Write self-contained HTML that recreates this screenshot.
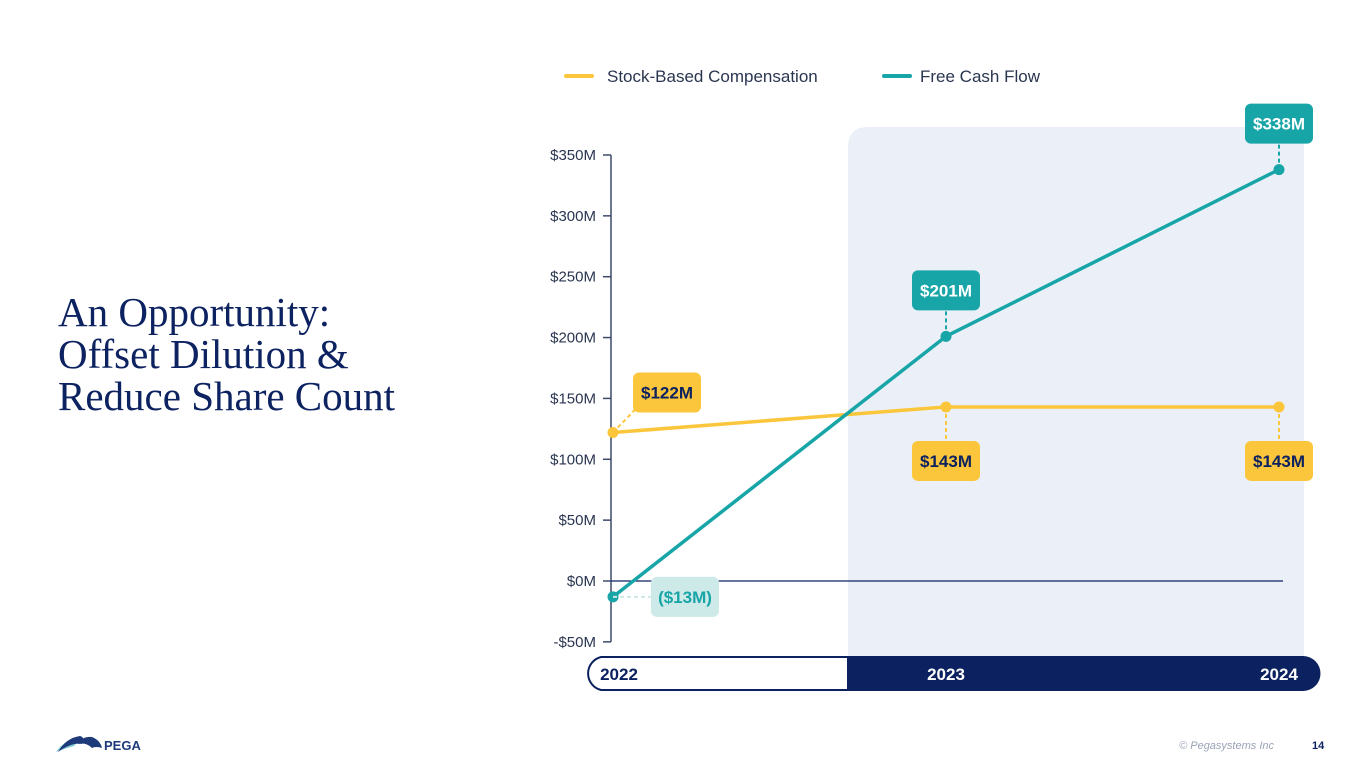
<!DOCTYPE html>
<html><head><meta charset="utf-8">
<style>
html,body{margin:0;padding:0;background:#fff;}
body{width:1365px;height:768px;position:relative;overflow:hidden;font-family:"Liberation Sans",sans-serif;}
.title{position:absolute;left:58px;top:291px;font-family:"Liberation Serif",serif;font-size:41px;line-height:42px;color:#0d2260;}
svg{position:absolute;left:0;top:0;}
</style></head>
<body>
<div class="title">An Opportunity:<br>Offset Dilution &amp;<br>Reduce Share Count</div>
<svg id="chart" width="1365" height="768"></svg>
<script>
const years=["2022","2023","2024"];
const sbc=[122,143,143];
const fcf=[-13,201,338];
const sbcLabels=["$122M","$143M","$143M"];
const fcfLabels=["($13M)","$201M","$338M"];
const yTicks=[-50,0,50,100,150,200,250,300,350];
const yTickLabels=["-$50M","$0M","$50M","$100M","$150M","$200M","$250M","$300M","$350M"];

const NS="http://www.w3.org/2000/svg";
const svg=document.getElementById('chart');
const Y0=581,PX=60.86/50;
const y=v=>Y0-v*PX;
const X0=613,XSTEP=333;
const x=i=>X0+XSTEP*i;
function el(t,a,p){const e=document.createElementNS(NS,t);for(const k in a)e.setAttribute(k,a[k]);(p||svg).appendChild(e);return e;}
const YEL="#fcc63c",TEAL="#17a5a7",NAVY="#0c2260";

let s=el('path',{d:"M848 656 V147 Q848 127 868 127 H1304 V656 Z",fill:"#ebf0f8"});


let l1=el('line',{x1:566,y1:76,x2:592,y2:76,stroke:YEL,'stroke-width':4,'stroke-linecap':'round'});

let t1=el('text',{x:607,y:82,'font-size':17,fill:'#2a3550'});t1.textContent="Stock-Based Compensation";

let l2=el('line',{x1:884,y1:76,x2:910,y2:76,stroke:TEAL,'stroke-width':4,'stroke-linecap':'round'});

let t2=el('text',{x:920,y:82,'font-size':17,fill:'#2a3550'});t2.textContent="Free Cash Flow";


let ax=el('line',{x1:611,y1:y(350),x2:611,y2:y(-50),stroke:'#3d4a6b','stroke-width':1.5});

yTicks.forEach((v,i)=>{
  let tk=el('line',{x1:603,y1:y(v),x2:611,y2:y(v),stroke:'#3d4a6b','stroke-width':1.5});
  
  let tt=el('text',{x:596,y:y(v)+5,'font-size':15,'text-anchor':'end',fill:'#2a3550'});tt.textContent=yTickLabels[i];
  
});
let zl=el('line',{x1:611,y1:y(0),x2:1283,y2:y(0),stroke:NAVY,'stroke-width':1.2});


let bb=el('path',{d:"M848 657 H601 A17 17 0 0 0 601 690 H848 Z",fill:'#fff',stroke:NAVY,'stroke-width':2});

let bn=el('path',{d:"M848 656 H1303 A17.5 17.5 0 0 1 1303 691 H848 Z",fill:NAVY});

years.forEach((yr,i)=>{
  let t=el('text',{x:i===0?619:x(i),y:680,'font-size':17,'font-weight':'bold','text-anchor':'middle',fill:i===0?NAVY:'#fff'});
  t.textContent=yr;
});

function series(vals,color,name){
  let p=el('polyline',{points:vals.map((v,i)=>x(i)+','+y(v)).join(' '),fill:'none',stroke:color,'stroke-width':3.5,'stroke-linejoin':'round'});
  
  vals.forEach((v,i)=>{
    let c=el('circle',{cx:x(i),cy:y(v),r:5.5,fill:color});
    
  });
}
series(sbc,YEL,'sbc');
series(fcf,TEAL,'fcf');

function label(cx,cy,w,h,txt,bg,fg,name){
  let r=el('rect',{x:cx-w/2,y:cy-h/2,width:w,height:h,rx:6,fill:bg});
  
  let t=el('text',{x:cx,y:cy+6,'font-size':17,'font-weight':'bold','text-anchor':'middle',fill:fg});
  t.textContent=txt;
}
function dash(x1,y1,x2,y2,c){let d=el('line',{x1,y1,x2,y2,stroke:c,'stroke-width':2,'stroke-dasharray':'4 3'});}

dash(x(0),y(sbc[0]),640,y(sbc[0])-28,YEL);
label(667,y(sbc[0])-40,68,40,sbcLabels[0],YEL,NAVY,'sbc-label-2022');
[1,2].forEach(i=>{dash(x(i),y(sbc[i]),x(i),y(sbc[i])+34,YEL);label(x(i),y(sbc[i])+54,68,40,sbcLabels[i],YEL,NAVY,'sbc-label-'+years[i]);});
dash(x(0),y(fcf[0]),652,y(fcf[0]),'#cfe6e6');
label(685,y(fcf[0]),68,40,fcfLabels[0],'#cde9e8',TEAL,'fcf-label-2022');
[1,2].forEach(i=>{dash(x(i),y(fcf[i]),x(i),y(fcf[i])-28,TEAL);label(x(i),y(fcf[i])-46,68,40,fcfLabels[i],TEAL,'#fff','fcf-label-'+years[i]);});

let lg=el('g',{});
el('path',{d:"M56 752 Q66 738 82 736 Q78 742 74 746 Q66 748 56 752 Z",fill:'#7fc9d6'},lg);
el('path',{d:"M58 752 Q66 738 80 736 Q86 738 82 744 Q72 742 58 752 Z",fill:'#1e3a7a'},lg);
el('path',{d:"M78 744 Q82 736 92 737 Q100 740 102 748 Q96 746 92 748 Q86 742 78 744 Z",fill:'#1e3a7a'},lg);
let pt=el('text',{x:104,y:750,'font-size':13,'font-weight':'bold',fill:'#1e3a7a'},lg);pt.textContent="PEGA";
let cp=el('text',{x:1274,y:749,'font-size':11,'font-style':'italic','text-anchor':'end',fill:'#9aa3b5'});cp.textContent="© Pegasystems Inc";

let pn=el('text',{x:1312,y:749,'font-size':11,'font-weight':'bold',fill:NAVY});pn.textContent="14";

</script>
</body></html>
